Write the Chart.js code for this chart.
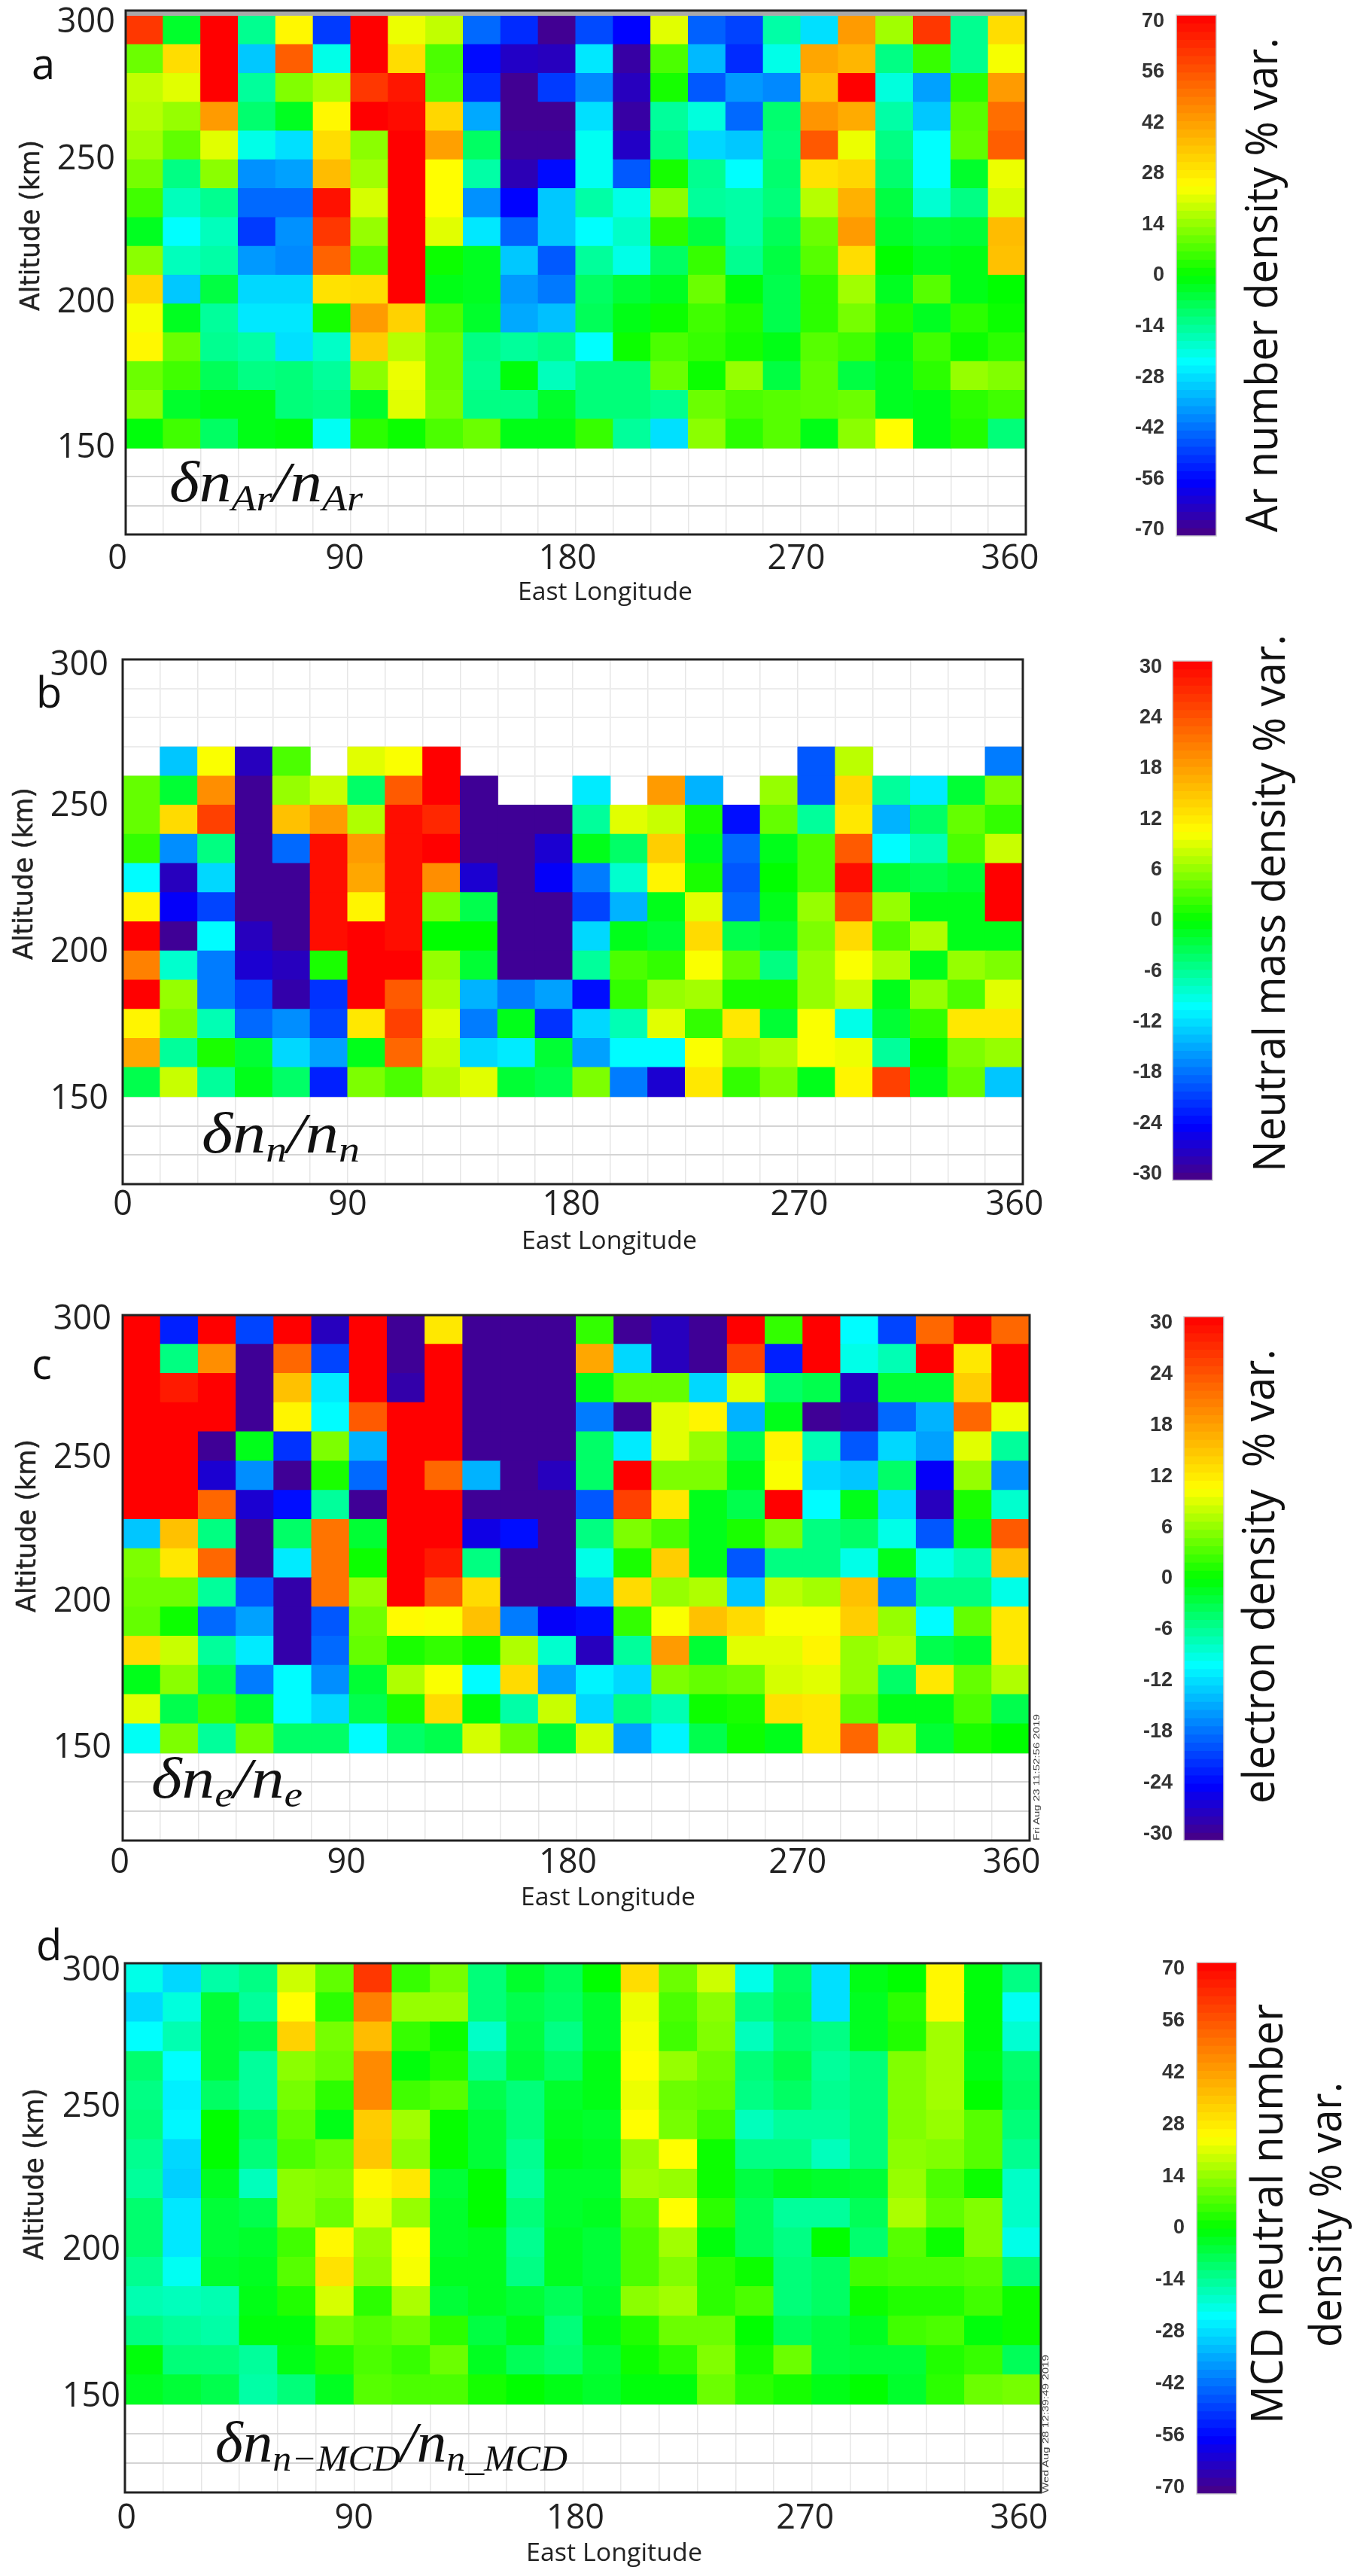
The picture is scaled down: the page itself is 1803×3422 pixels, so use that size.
<!DOCTYPE html>
<html>
<head>
<meta charset="utf-8">
<title>Longitude-altitude density variations</title>
<script src="https://cdn.jsdelivr.net/npm/chart.js@4"></script>
<style>
html,body{margin:0;padding:0;background:#fff;}
#page{position:relative;width:1803px;height:3422px;overflow:hidden;background:#fff;}
canvas{position:absolute;}
svg{position:absolute;left:0;top:0;}
</style>
</head>
<body>
<div id="page"></div>
<script>
const n = null;
// 24 longitude bins (west edge, degrees East)
const longitudes = [0,15,30,45,60,75,90,105,120,135,150,165,180,195,210,225,240,255,270,285,300,315,330,345];
// altitude bins (bottom edge, km), top row first
const altitudes = [290,280,270,260,250,240,230,220,210,200,190,180,170,160,150];
const longitudeLabels = [0,90,180,270,360];
const altitudeLabels = [150,200,250,300];
const scaleLabels70 = [-70,-56,-42,-28,-14,0,14,28,42,56,70];
const scaleLabels30 = [-30,-24,-18,-12,-6,0,6,12,18,24,30];

// a: Ar number density % var.
const arVar = [
[60,-4,70,-13,25,-48,70,22,18,-42,-50,-68,-46,-55,21,-43,-47,-15,-27,42,15,60,-13,30],
[10,30,70,-30,53,-21,70,30,7,-54,-62,-63,-26,-66,7,-32,-50,-21,40,37,-12,5,-13,23],
[18,21,70,-14,12,16,60,66,8,-50,-68,-48,-38,-63,2,-44,-36,-38,35,70,-20,-35,4,42],
[17,14,42,-10,-3,25,70,68,31,-34,-68,-68,-27,-66,-14,-20,-42,-10,43,39,-15,-30,8,50],
[15,9,21,-21,-27,30,13,70,41,-9,-67,-67,-22,-62,-12,-28,-30,-11,54,22,-12,-23,9,53],
[11,-12,13,-37,-35,36,15,70,24,-15,-64,-54,-22,-44,2,-13,-23,-10,29,31,-10,-23,-4,22],
[6,-17,-13,-42,-42,67,20,70,24,-37,-55,-30,-15,-21,13,-14,-15,-11,17,38,-6,-19,-12,20],
[-3,-23,-17,-48,-37,60,14,70,21,-26,-43,-30,-23,-18,4,-6,-15,-8,10,42,-4,-6,-5,36],
[13,-17,-15,-36,-38,52,8,70,1,-3,-30,-44,-14,-21,-9,5,-13,-6,8,30,0,-3,-2,35],
[31,-30,-6,-28,-28,29,30,70,-2,-3,-36,-40,-9,-5,-3,10,-1,-7,4,15,-3,8,-2,0],
[23,-3,-14,-26,-26,2,42,32,7,-4,-34,-31,-8,-2,1,6,3,-7,4,11,3,-3,4,1],
[25,10,-13,-15,-27,-18,33,17,10,-12,-14,-12,-23,1,7,5,2,-2,8,6,-2,6,1,4],
[10,6,-8,-12,-11,-14,13,22,10,-13,-1,-17,-11,-11,10,1,14,-6,9,-6,-3,4,14,12],
[13,-4,-2,-2,-11,-12,-4,21,11,-12,-12,-4,-11,-11,-13,10,7,8,9,10,-3,-2,4,6],
[-1,6,-9,-2,-1,-22,4,1,7,10,-2,-2,5,-14,-27,13,4,8,-2,13,24,-2,3,-11]
];

// b: Neutral mass density % var.
const massVar = [
[n,n,n,n,n,n,n,n,n,n,n,n,n,n,n,n,n,n,n,n,n,n,n,n],
[n,n,n,n,n,n,n,n,n,n,n,n,n,n,n,n,n,n,n,n,n,n,n,n],
[n,n,n,n,n,n,n,n,n,n,n,n,n,n,n,n,n,n,n,n,n,n,n,n],
[n,-13,10,-27,3,n,9,10,30,n,n,n,n,n,n,n,n,n,-19,7.5,n,n,n,-17],
[4,-2,19,-29,6,8,-4,23,30,-29,n,n,-11,n,18,-14,n,6,-19,13,-6,-11,-2,5],
[4,13,25,-29,15,18,7,29,27,-29,-29,-29,-6,9,8,1,-23,4,-6,12,-14,-4,4,2],
[2,-16,-5,-29,-18,29,18,29,30,-29,-29,-26,-1,-4,14,-1,-18,-1,3,23,-10,-7,3,8],
[-10,-27,-12,-29,-29,29,17,29,19,-26,-29,-24,-17,-8,11,1,-19,0,3,29,-2,-3,-2,30],
[11,-24,-20,-29,-29,29,11,29,5,-3,-29,-29,-20,-14,-1,9,-18,-1,6,24,6,-1,-1,30],
[30,-29,-10,-27,-29,29,30,29,0,0,-29,-29,-12,-1,-2,13,-3,-2,5,13,3,7,-1,-1],
[20,-8,-17,-26,-27,1,30,30,6,-2,-29,-29,-6,3,2,10,4,-5,6,10,7,-1,6,5],
[30,6,-17,-20,-28,-21,30,23,7,-14,-17,-15,-23,2,6,6.5,1,1,6,8,-1,6,3,9],
[11,5,-7,-18,-16,-20,12,25,9,-17,-1,-21,-12,-7,9,2,12,-2,10,-9,-2,2,12,12],
[17,-6,1,-2,-12,-15,-1,22,8,-12,-11,-2,-15,-10,-10,10,6,7,10,9.5,-6,0,5,6],
[-3,8,-6,-1,-4,-22,5,3,7,9,-2,-3,5,-17,-26,12,2,5,-1,11,25,-1,4,-13]
];

// c: electron density % var.
const electronVar = [
[30,-22,30,-20,30,-27,30,-29,12,-29,-29,-29,2,-29,-27,-29,30,2,30,-10,-20,22,30,22],
[30,-5,19,-29,22,-20,30,-29,30,-29,-29,-29,17,-12,-27,-29,25,-22,30,-9,-7,30,12,30],
[30,28,30,-29,15,-11,30,-28,30,-29,-29,-29,-1,4,4,-12,9,-4,-3,-27,-2,-2,14,30],
[30,30,30,-29,11,-10,23,30,30,-29,-29,-29,-17,-29,9,11,-14,-1,-29,-28,-18,-14,22,9.5],
[30,30,-29,-1,-21,5,-14,30,30,-29,-29,-29,-4,-11,9,6,-3,11,-7,-19,-12,-15,9,-6],
[30,30,-26,-16,-29,1,-18,30,22,-14,-29,-27,-4,30,5,5,-1,10,-12,-13,-4,-24,6,-16],
[30,30,22,-26,-23,-6,-29,30,30,-29,-29,-29,-19,25,12,-1,-3,30,-10,-1,-12,-27,1,-8],
[-13,15,-5,-29,-4,21,-2,30,30,-25,-23,-29,-5,5,3,-1,1,5,-5,-4,-9,-19,-1,23],
[5,12,22,-29,-11,21,0.5,30,28,-5,-29,-29,-9,1,14,-1,-19,-5,-5,-9,-1,-9,-7,15],
[4.5,4.5,-6,-19,-28,21,6,30,23,13,-29,-29,-13,13,6,7,-13,7.5,6.5,15,-17,-5,-5,-9],
[4,0.5,-18,-15,-28,-19,4.5,10.5,10,15,-17,-24,-23,2,10,15,13,10,10,14,6,-10,4,12],
[13,8,-6,-11,-28,-18,4,1,2,0.5,7,-8,-27,-6,18,-2,9,9,11,6,7,-3,-2,12],
[-1,5.5,-3,-17,-10,-16,-2,7,10,-10,13,-15,-10.5,-12,5,4,4.5,8.5,9,6,-4,12,4,7],
[9,-3,2.5,-2,-10,-12,-3,1,13,-0.5,-6.5,8,-12,-5,-7,0.5,1,12.5,12,4,-1,-1,3,-3],
[-9.5,5,-6,4.5,-4,-4,-10,-4,-3,8.5,4.5,-2,8.5,-15,-10.5,-3,0.5,-1,12,22,7,-2,1,0]
];

// d: MCD neutral number density % var.
const mcdVar = [
[-21,-28,-15,-12,19,9,60,5,11,-11,-4,-8,0,30,10,19,-21,-9,-27,-2,0,25,-1,-12],
[-28,-20,-5,-14,24,4,47,14,14,-11,-7,-9,-4,22,7,13,-12,-8,-27,-3,4,25,-1,-22],
[-23,-16,-5,-7,32,11,36,5,1,-18,-6,-12,-4,23,6,12,-17,-10,-12,-3,3,15,-1,-19],
[-10,-23,-5,-14,13,10,45,-1,3,-13,-5,-9,-2,24,14,10,-11,-7,-14,-11,12,15,-2,-10],
[-12,-25,-9,-14,11,4,45,6,8,-7,-11,-4,-2,22,10,9,-12,-9,-13,-11,12,15,0,-9],
[-11,-24,0,-9,9,-2,33,15,0.5,-5,-11,-3,-4,24,11,6,-17,-14,-14,-11,12,14,8,-11],
[-13,-28,0,-11,7,10,34,13,0.5,-5,-13,-2,-3,14,24,1,-12,-12,-17,-11,13,12,8,-13],
[-14,-29,-3,-17,13,12,25,28,-5,0,-14,-4,-4,15,14,1,-6,-3,-4,-5,14,7,1,-18],
[-10,-26,-5,-7,13,10,21,14,-4,0,-11,-4,-3,9,24,4,-8,-14,-14,-8,16,9,12,-18],
[-10,-26,-5,-4,6,25,14,24,-4,-3,-13,-3,-5,7,15,-1,-8,-12,0,-10,8,1,12,-21],
[-13,-22,-4,-3,8,29,13,23,-3,-3,-12,-3,-5,7,12,4,1,-11,-9,6,7,7,8,-11],
[-16,-17,-16,-2,3,20,4,16,-5,-3,-5,-8,-4,13,15,4,7,-11,-9,1,3,3,6,1],
[-12,-14,-15,-1,-1,11,8,10,4,-6,-2,-11,-2,3,10,10,0,-8,-6,-3,6,7,-1,1],
[-1,-11,-11,-14,-2,3,7,5,10,-3,-8,-10,-5,1,4,12,2,10,-6,-5,-5,3,5,-8],
[-3,-5,-7,-15,-11,-3,8,7,7,2,0,-2,-4,-1,-1,10,4,2,-2,0,-4,4,10,11]
];

const colorStops = [[-1,75,0,130],[-0.79,0,0,255],[-0.33,0,255,255],[0,0,255,0],[0.34,255,255,0],[1,255,0,0]];
function colorOf(v, range){
  const t = Math.max(-1, Math.min(1, v / range));
  for (let i = 1; i < colorStops.length; i++){
    const a = colorStops[i-1], b = colorStops[i];
    if (t <= b[0]){
      const f = (t - a[0]) / (b[0] - a[0]);
      return 'rgb(' + [1,2,3].map(k => Math.round(a[k] + (b[k]-a[k]) * f)).join(',') + ')';
    }
  }
  return 'rgb(255,0,0)';
}

const page = document.getElementById('page');
function addCanvas(left, top, width, height){
  const c = document.createElement('canvas');
  c.width = width; c.height = height;
  c.style.left = left + 'px'; c.style.top = top + 'px';
  c.style.width = width + 'px'; c.style.height = height + 'px';
  page.appendChild(c);
  return c;
}

const frame = {
  id: 'frame',
  beforeDraw(chart, args, opts){
    // nudge individual axis labels to where the reference printed them
    if (!opts.xShift || chart.$nudged) return;
    chart.$nudged = true;
    chart.scales.x.getLabelItems().forEach(item => {
      const i = longitudeLabels.indexOf(Number(item.label));
      if (item.label !== '' && i >= 0) item.options.translation[0] += opts.xShift[i];
    });
    chart.scales.y.getLabelItems().forEach(item => {
      const i = altitudeLabels.indexOf(Number(item.label));
      if (item.label !== '' && i >= 0) item.options.translation[1] += opts.yShift[i];
    });
  },
  afterDatasetsDraw(chart, args, opts){
    const {ctx, chartArea: a} = chart;
    ctx.save();
    if (opts.band){
      ctx.fillStyle = '#a9a9a9';
      ctx.fillRect(a.left, a.top, a.width, chart.scales.y.getPixelForValue(300) - a.top);
    }
    ctx.strokeStyle = opts.color;
    ctx.lineWidth = opts.width;
    ctx.strokeRect(a.left, a.top, a.width, a.height);
    ctx.restore();
  }
};

function heatPanel(p){
  const padTop = 30, padRight = 40, bottomH = 70;
  const canvas = addCanvas(0, p.T - padTop, p.R + padRight, p.B - p.T + padTop + bottomH);
  const cells = [];
  p.values.forEach((row, r) => row.forEach((v, c) => {
    if (v !== null) cells.push({x: longitudes[c] + 7.5, y: [altitudes[r], altitudes[r] + 10], v});
  }));
  new Chart(canvas, {
    type: 'bar',
    data: {datasets: [{
      label: p.name,
      data: cells,
      backgroundColor: ctx => ctx.raw ? colorOf(ctx.raw.v, p.range) : '#fff',
      borderWidth: 0,
      inflateAmount: 0.5,
      barPercentage: 1,
      categoryPercentage: 1
    }]},
    options: {
      responsive: false, animation: false, devicePixelRatio: 1,
      layout: {padding: {top: padTop, right: padRight, left: 0, bottom: 0}},
      plugins: {legend: {display: false}, tooltip: {enabled: false}, title: {display: false},
        frame: {color: '#222', width: 3, band: p.band, xShift: p.xShift, yShift: p.yShift}},
      scales: {
        x: {
          type: 'linear', min: 0, max: 360, offset: false,
          grid: {offset: false, drawTicks: false, color: '#e6e6e6', lineWidth: 1.5},
          border: {display: false},
          afterFit(s){ s.height = bottomH; s.paddingLeft = 0; s.paddingRight = 0; },
          afterBuildTicks(s){ s.ticks = []; for (let i = 0; i <= 24; i++) s.ticks.push({value: i * 15}); },
          ticks: {
            autoSkip: false, maxRotation: 0, minRotation: 0, padding: p.xGap,
            color: '#222', font: {family: '"Liberation Sans Narrow","Open Sans"', size: 45},
            callback: v => longitudeLabels.includes(v) ? String(v) : ''
          }
        },
        y: {
          type: 'linear', min: 120, max: p.yMax, offset: false,
          grid: {drawTicks: false, color: ctx => (ctx.tick.value === 130 || ctx.tick.value === 140) ? '#d4d4d4' : '#ececec', lineWidth: 2},
          border: {display: false},
          afterFit(s){ s.width = p.L; s.paddingTop = 0; s.paddingBottom = 0; },
          afterBuildTicks(s){ s.ticks = []; for (let i = 0; i <= 18; i++) s.ticks.push({value: 120 + i * 10}); },
          ticks: {
            autoSkip: false, padding: p.yGap,
            color: '#222', font: {family: '"Liberation Sans Narrow","Open Sans"', size: 45},
            callback: v => altitudeLabels.includes(v) ? String(v) : ''
          }
        }
      }
    },
    plugins: [frame]
  });
}

function colorBar(b){
  const leftW = 105, pad = 24;
  const canvas = addCanvas(b.x0 - leftW, b.T - pad, b.x1 - b.x0 + leftW + 6, b.B - b.T + 2 * pad);
  const bands = [];
  const count = 64;
  for (let i = 0; i < count; i++) bands.push({x: [0, 1], y: -b.range + (i + 0.5) * 2 * b.range / count});
  new Chart(canvas, {
    type: 'bar',
    data: {datasets: [{
      label: b.name,
      data: bands,
      backgroundColor: ctx => ctx.raw ? colorOf(ctx.raw.y, b.range) : '#fff',
      borderWidth: 0, inflateAmount: 0.5, barPercentage: 1, categoryPercentage: 1
    }]},
    options: {
      indexAxis: 'y',
      responsive: false, animation: false, devicePixelRatio: 1,
      layout: {padding: {top: pad, bottom: pad, right: 6, left: 0}},
      plugins: {legend: {display: false}, tooltip: {enabled: false}, frame: {color: '#cfcfcf', width: 1.5, band: false}},
      scales: {
        x: {type: 'linear', min: 0, max: 1, display: false, offset: false},
        y: {
          type: 'linear', min: -b.range, max: b.range, position: 'left', offset: false,
          grid: {display: false}, border: {display: false},
          afterFit(s){ s.width = leftW; s.paddingTop = 0; s.paddingBottom = 0; },
          afterBuildTicks(s){ s.ticks = b.labels.map(l => ({value: l * 0.976})); },
          ticks: {
            autoSkip: false, padding: b.gap, color: '#333',
            font: {family: '"Liberation Sans"', size: 27, weight: 'bold'},
            callback: (v, i) => String(b.labels[i])
          }
        }
      }
    },
    plugins: [frame]
  });
}

heatPanel({name:'Ar number density % var.', values: arVar, range:70, L:167, R:1363, T:14, B:710, yMax:301.8, band:true, xGap:6, yGap:14, xShift:[-11,-8,-11,-6,-21], yShift:[0,-2,0,9]});
heatPanel({name:'Neutral mass density % var.', values: massVar, range:30, L:163, R:1359, T:876, B:1573, yMax:300, band:false, xGap:1, yGap:19, xShift:[0,0,-2,2,-11], yShift:[3,2,2,8]});
heatPanel({name:'electron density % var.', values: electronVar, range:30, L:163, R:1368, T:1747, B:2445, yMax:300, band:false, xGap:3, yGap:15, xShift:[-4,-4,-11,-7,-24], yShift:[-6,-7,-4,6]});
heatPanel({name:'MCD neutral number density % var.', values: mcdVar, range:70, L:166, R:1383, T:2608, B:3311, yMax:300, band:false, xGap:8, yGap:6, xShift:[2,0,-10,-9,-29], yShift:[-10,-9,-4,10]});

colorBar({name:'Ar', range:70, labels:scaleLabels70, x0:1563, x1:1616, T:20, B:712, gap:8});
colorBar({name:'Neutral', range:30, labels:scaleLabels30, x0:1558, x1:1611, T:878, B:1568, gap:6});
colorBar({name:'electron', range:30, labels:scaleLabels30, x0:1573, x1:1626, T:1749, B:2445, gap:7});
colorBar({name:'MCD', range:70, labels:scaleLabels70, x0:1590, x1:1643, T:2607, B:3313, gap:8});
</script>
<svg id="labels" width="1803" height="3422" xmlns="http://www.w3.org/2000/svg" style="pointer-events:none">
  <style>
    .ax{font-family:"DejaVu Sans";font-size:35px;fill:#222;stroke:#222;stroke-width:0.5px;}
    .lon{font-family:"Open Sans";font-size:33px;fill:#222;}
    .cb{font-family:"Open Sans";font-size:58px;fill:#111;}
    .let{font-family:"Open Sans";font-size:56px;fill:#111;}
    .m{font-family:"Liberation Serif";font-style:italic;font-size:76px;fill:#111;}
    .sb{font-size:48px;}
    .ts{font-family:"Liberation Sans";font-size:11px;fill:#444;}
  </style>
  <text class="let" x="42" y="105">a</text>
  <text class="let" x="48" y="940">b</text>
  <text class="let" x="42" y="1832">c</text>
  <text class="let" x="48" y="2604">d</text>

  <text class="ax" transform="translate(52,413) rotate(-90)" textLength="227" lengthAdjust="spacingAndGlyphs">Altitude (km)</text>
  <text class="ax" transform="translate(43,1275) rotate(-90)" textLength="229" lengthAdjust="spacingAndGlyphs">Altitude (km)</text>
  <text class="ax" transform="translate(47,2142) rotate(-90)" textLength="230" lengthAdjust="spacingAndGlyphs">Altitude (km)</text>
  <text class="ax" transform="translate(57,3002) rotate(-90)" textLength="228" lengthAdjust="spacingAndGlyphs">Altitude (km)</text>

  <text class="lon" x="688" y="797" textLength="232" lengthAdjust="spacingAndGlyphs">East Longitude</text>
  <text class="lon" x="693" y="1659" textLength="233" lengthAdjust="spacingAndGlyphs">East Longitude</text>
  <text class="lon" x="692" y="2531" textLength="232" lengthAdjust="spacingAndGlyphs">East Longitude</text>
  <text class="lon" x="699" y="3402" textLength="234" lengthAdjust="spacingAndGlyphs">East Longitude</text>

  <text class="cb" transform="translate(1697,707) rotate(-90)" textLength="657" lengthAdjust="spacingAndGlyphs">Ar number density % var.</text>
  <text class="cb" transform="translate(1707,1557) rotate(-90)" textLength="714" lengthAdjust="spacingAndGlyphs">Neutral mass density % var.</text>
  <text class="cb" xml:space="preserve" transform="translate(1693,2396) rotate(-90)" textLength="604" lengthAdjust="spacingAndGlyphs">electron density  % var.</text>
  <text class="cb" transform="translate(1704,3220) rotate(-90)" textLength="558" lengthAdjust="spacingAndGlyphs">MCD neutral number</text>
  <text class="cb" transform="translate(1782,3118) rotate(-90)" textLength="352" lengthAdjust="spacingAndGlyphs">density % var.</text>

  <text class="m" x="225" y="666" textLength="257" lengthAdjust="spacingAndGlyphs">δn<tspan class="sb" dy="12">Ar</tspan><tspan dy="-12">/n</tspan><tspan class="sb" dy="12">Ar</tspan></text>
  <text class="m" x="268" y="1531" textLength="210" lengthAdjust="spacingAndGlyphs">δn<tspan class="sb" dy="12">n</tspan><tspan dy="-12">/n</tspan><tspan class="sb" dy="12">n</tspan></text>
  <text class="m" x="201" y="2388" textLength="201" lengthAdjust="spacingAndGlyphs">δn<tspan class="sb" dy="12">e</tspan><tspan dy="-12">/n</tspan><tspan class="sb" dy="12">e</tspan></text>
  <text class="m" x="286" y="3270" textLength="468" lengthAdjust="spacingAndGlyphs">δn<tspan class="sb" dy="12">n−MCD</tspan><tspan dy="-12">/n</tspan><tspan class="sb" dy="12">n_MCD</tspan></text>

  <text class="ts" transform="translate(1381,2445) rotate(-90)" textLength="168" lengthAdjust="spacingAndGlyphs">Fri Aug 23 11:52:56 2019</text>
  <text class="ts" transform="translate(1393,3312) rotate(-90)" textLength="184" lengthAdjust="spacingAndGlyphs">Wed Aug 28 12:39:49 2019</text>
</svg>
</body>
</html>
